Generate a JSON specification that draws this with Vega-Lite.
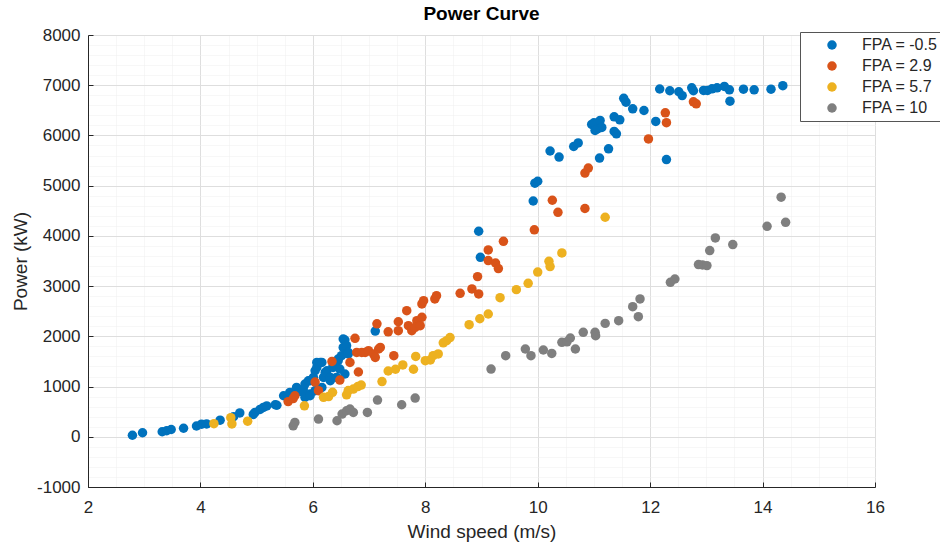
{
 "$schema": "https://vega.github.io/schema/vega-lite/v6.json",
 "width": 787, "height": 452,
 "autosize": {"type": "none"},
 "padding": {"left": 88, "top": 35, "right": 65, "bottom": 55},
 "background": "white",
 "title": {"text": "Power Curve", "fontSize": 19, "fontWeight": "bold", "font": "Liberation Sans", "color": "#000000", "offset": 2, "anchor": "middle"},
 "config": {"view": {"stroke": null}, "font": "Liberation Sans"},
 "data": {"values": [
{"fpa":"FPA = -0.5","ws":2.79,"p":30},{"fpa":"FPA = -0.5","ws":2.97,"p":80},{"fpa":"FPA = -0.5","ws":3.32,"p":100},{"fpa":"FPA = -0.5","ws":3.40,"p":120},{"fpa":"FPA = -0.5","ws":3.48,"p":145},{"fpa":"FPA = -0.5","ws":3.70,"p":170},{"fpa":"FPA = -0.5","ws":3.93,"p":215},{"fpa":"FPA = -0.5","ws":4.02,"p":250},{"fpa":"FPA = -0.5","ws":4.11,"p":255},{"fpa":"FPA = -0.5","ws":4.35,"p":330},{"fpa":"FPA = -0.5","ws":4.59,"p":400},{"fpa":"FPA = -0.5","ws":4.70,"p":475},{"fpa":"FPA = -0.5","ws":4.94,"p":445},{"fpa":"FPA = -0.5","ws":4.97,"p":484},{"fpa":"FPA = -0.5","ws":5.06,"p":545},{"fpa":"FPA = -0.5","ws":5.12,"p":584},{"fpa":"FPA = -0.5","ws":5.18,"p":614},{"fpa":"FPA = -0.5","ws":5.33,"p":638},{"fpa":"FPA = -0.5","ws":5.36,"p":628},{"fpa":"FPA = -0.5","ws":5.48,"p":817},{"fpa":"FPA = -0.5","ws":5.56,"p":817},{"fpa":"FPA = -0.5","ws":5.59,"p":883},{"fpa":"FPA = -0.5","ws":5.71,"p":883},{"fpa":"FPA = -0.5","ws":5.71,"p":983},{"fpa":"FPA = -0.5","ws":5.83,"p":950},{"fpa":"FPA = -0.5","ws":5.83,"p":883},{"fpa":"FPA = -0.5","ws":5.86,"p":1050},{"fpa":"FPA = -0.5","ws":5.86,"p":783},{"fpa":"FPA = -0.5","ws":5.92,"p":1116},{"fpa":"FPA = -0.5","ws":5.95,"p":851},{"fpa":"FPA = -0.5","ws":5.95,"p":817},{"fpa":"FPA = -0.5","ws":5.95,"p":1116},{"fpa":"FPA = -0.5","ws":6.01,"p":1182},{"fpa":"FPA = -0.5","ws":6.04,"p":1315},{"fpa":"FPA = -0.5","ws":6.04,"p":917},{"fpa":"FPA = -0.5","ws":6.07,"p":1381},{"fpa":"FPA = -0.5","ws":6.07,"p":1481},{"fpa":"FPA = -0.5","ws":6.13,"p":1481},{"fpa":"FPA = -0.5","ws":6.16,"p":1481},{"fpa":"FPA = -0.5","ws":6.16,"p":983},{"fpa":"FPA = -0.5","ws":6.19,"p":1182},{"fpa":"FPA = -0.5","ws":6.22,"p":1282},{"fpa":"FPA = -0.5","ws":6.25,"p":1315},{"fpa":"FPA = -0.5","ws":6.31,"p":1182},{"fpa":"FPA = -0.5","ws":6.31,"p":1116},{"fpa":"FPA = -0.5","ws":6.36,"p":1415},{"fpa":"FPA = -0.5","ws":6.36,"p":1381},{"fpa":"FPA = -0.5","ws":6.42,"p":1182},{"fpa":"FPA = -0.5","ws":6.45,"p":1515},{"fpa":"FPA = -0.5","ws":6.45,"p":1548},{"fpa":"FPA = -0.5","ws":6.48,"p":1349},{"fpa":"FPA = -0.5","ws":6.51,"p":1614},{"fpa":"FPA = -0.5","ws":6.54,"p":1780},{"fpa":"FPA = -0.5","ws":6.54,"p":1947},{"fpa":"FPA = -0.5","ws":6.57,"p":1250},{"fpa":"FPA = -0.5","ws":6.57,"p":1927},{"fpa":"FPA = -0.5","ws":6.60,"p":1814},{"fpa":"FPA = -0.5","ws":6.63,"p":1680},{"fpa":"FPA = -0.5","ws":6.63,"p":1648},{"fpa":"FPA = -0.5","ws":7.11,"p":2105},{"fpa":"FPA = -0.5","ws":8.95,"p":4092},{"fpa":"FPA = -0.5","ws":8.98,"p":3573},{"fpa":"FPA = -0.5","ws":9.92,"p":4695},{"fpa":"FPA = -0.5","ws":9.95,"p":5050},{"fpa":"FPA = -0.5","ws":10.0,"p":5088},{"fpa":"FPA = -0.5","ws":10.22,"p":5690},{"fpa":"FPA = -0.5","ws":10.38,"p":5570},{"fpa":"FPA = -0.5","ws":10.64,"p":5780},{"fpa":"FPA = -0.5","ws":10.72,"p":5850},{"fpa":"FPA = -0.5","ws":10.96,"p":6220},{"fpa":"FPA = -0.5","ws":11.0,"p":6252},{"fpa":"FPA = -0.5","ws":11.06,"p":6132},{"fpa":"FPA = -0.5","ws":11.11,"p":6298},{"fpa":"FPA = -0.5","ws":11.14,"p":6160},{"fpa":"FPA = -0.5","ws":11.02,"p":6100},{"fpa":"FPA = -0.5","ws":11.10,"p":5550},{"fpa":"FPA = -0.5","ws":11.26,"p":5734},{"fpa":"FPA = -0.5","ws":11.36,"p":6370},{"fpa":"FPA = -0.5","ws":11.46,"p":6312},{"fpa":"FPA = -0.5","ws":11.36,"p":6080},{"fpa":"FPA = -0.5","ws":11.40,"p":6033},{"fpa":"FPA = -0.5","ws":11.53,"p":6740},{"fpa":"FPA = -0.5","ws":11.57,"p":6663},{"fpa":"FPA = -0.5","ws":11.69,"p":6531},{"fpa":"FPA = -0.5","ws":11.89,"p":6497},{"fpa":"FPA = -0.5","ws":12.10,"p":6280},{"fpa":"FPA = -0.5","ws":12.29,"p":5520},{"fpa":"FPA = -0.5","ws":12.17,"p":6925},{"fpa":"FPA = -0.5","ws":12.35,"p":6890},{"fpa":"FPA = -0.5","ws":12.51,"p":6870},{"fpa":"FPA = -0.5","ws":12.57,"p":6793},{"fpa":"FPA = -0.5","ws":12.74,"p":6949},{"fpa":"FPA = -0.5","ws":12.77,"p":6890},{"fpa":"FPA = -0.5","ws":12.95,"p":6896},{"fpa":"FPA = -0.5","ws":13.02,"p":6896},{"fpa":"FPA = -0.5","ws":13.10,"p":6929},{"fpa":"FPA = -0.5","ws":13.19,"p":6949},{"fpa":"FPA = -0.5","ws":13.32,"p":6975},{"fpa":"FPA = -0.5","ws":13.41,"p":6909},{"fpa":"FPA = -0.5","ws":13.42,"p":6682},{"fpa":"FPA = -0.5","ws":13.66,"p":6922},{"fpa":"FPA = -0.5","ws":13.85,"p":6909},{"fpa":"FPA = -0.5","ws":14.15,"p":6922},{"fpa":"FPA = -0.5","ws":14.36,"p":6990},
{"fpa":"FPA = 2.9","ws":5.56,"p":700},{"fpa":"FPA = 2.9","ws":5.65,"p":760},{"fpa":"FPA = 2.9","ws":5.68,"p":817},{"fpa":"FPA = 2.9","ws":6.04,"p":1090},{"fpa":"FPA = 2.9","ws":6.10,"p":917},{"fpa":"FPA = 2.9","ws":6.34,"p":1500},{"fpa":"FPA = 2.9","ws":6.48,"p":1130},{"fpa":"FPA = 2.9","ws":6.66,"p":1481},{"fpa":"FPA = 2.9","ws":6.75,"p":1960},{"fpa":"FPA = 2.9","ws":6.78,"p":1680},{"fpa":"FPA = 2.9","ws":6.81,"p":1290},{"fpa":"FPA = 2.9","ws":6.87,"p":1680},{"fpa":"FPA = 2.9","ws":6.93,"p":1680},{"fpa":"FPA = 2.9","ws":6.99,"p":1714},{"fpa":"FPA = 2.9","ws":7.08,"p":1648},{"fpa":"FPA = 2.9","ws":7.11,"p":1580},{"fpa":"FPA = 2.9","ws":7.17,"p":1748},{"fpa":"FPA = 2.9","ws":7.20,"p":1780},{"fpa":"FPA = 2.9","ws":7.14,"p":2250},{"fpa":"FPA = 2.9","ws":7.34,"p":2090},{"fpa":"FPA = 2.9","ws":7.44,"p":1614},{"fpa":"FPA = 2.9","ws":7.52,"p":2113},{"fpa":"FPA = 2.9","ws":7.52,"p":2290},{"fpa":"FPA = 2.9","ws":7.67,"p":2511},{"fpa":"FPA = 2.9","ws":7.70,"p":2212},{"fpa":"FPA = 2.9","ws":7.76,"p":2113},{"fpa":"FPA = 2.9","ws":7.85,"p":2312},{"fpa":"FPA = 2.9","ws":7.82,"p":2179},{"fpa":"FPA = 2.9","ws":7.91,"p":2212},{"fpa":"FPA = 2.9","ws":7.94,"p":2378},{"fpa":"FPA = 2.9","ws":7.94,"p":2645},{"fpa":"FPA = 2.9","ws":7.97,"p":2711},{"fpa":"FPA = 2.9","ws":8.17,"p":2744},{"fpa":"FPA = 2.9","ws":8.20,"p":2810},{"fpa":"FPA = 2.9","ws":8.62,"p":2856},{"fpa":"FPA = 2.9","ws":8.83,"p":2943},{"fpa":"FPA = 2.9","ws":8.95,"p":2844},{"fpa":"FPA = 2.9","ws":8.93,"p":3189},{"fpa":"FPA = 2.9","ws":9.12,"p":3721},{"fpa":"FPA = 2.9","ws":9.12,"p":3508},{"fpa":"FPA = 2.9","ws":9.25,"p":3460},{"fpa":"FPA = 2.9","ws":9.30,"p":3350},{"fpa":"FPA = 2.9","ws":9.39,"p":3892},{"fpa":"FPA = 2.9","ws":9.94,"p":4120},{"fpa":"FPA = 2.9","ws":10.26,"p":4710},{"fpa":"FPA = 2.9","ws":10.36,"p":4470},{"fpa":"FPA = 2.9","ws":10.84,"p":4545},{"fpa":"FPA = 2.9","ws":10.84,"p":5250},{"fpa":"FPA = 2.9","ws":10.90,"p":5350},{"fpa":"FPA = 2.9","ws":11.97,"p":5930},{"fpa":"FPA = 2.9","ws":12.27,"p":6450},{"fpa":"FPA = 2.9","ws":12.29,"p":6255},{"fpa":"FPA = 2.9","ws":12.77,"p":6670},{"fpa":"FPA = 2.9","ws":12.82,"p":6630},
{"fpa":"FPA = 5.7","ws":4.24,"p":260},{"fpa":"FPA = 5.7","ws":4.54,"p":380},{"fpa":"FPA = 5.7","ws":4.56,"p":255},{"fpa":"FPA = 5.7","ws":4.84,"p":310},{"fpa":"FPA = 5.7","ws":5.85,"p":616},{"fpa":"FPA = 5.7","ws":6.19,"p":785},{"fpa":"FPA = 5.7","ws":6.28,"p":800},{"fpa":"FPA = 5.7","ws":6.35,"p":885},{"fpa":"FPA = 5.7","ws":6.60,"p":835},{"fpa":"FPA = 5.7","ws":6.63,"p":920},{"fpa":"FPA = 5.7","ws":6.72,"p":950},{"fpa":"FPA = 5.7","ws":6.80,"p":1000},{"fpa":"FPA = 5.7","ws":6.86,"p":1030},{"fpa":"FPA = 5.7","ws":7.23,"p":1100},{"fpa":"FPA = 5.7","ws":7.34,"p":1310},{"fpa":"FPA = 5.7","ws":7.47,"p":1345},{"fpa":"FPA = 5.7","ws":7.60,"p":1430},{"fpa":"FPA = 5.7","ws":7.79,"p":1345},{"fpa":"FPA = 5.7","ws":7.83,"p":1600},{"fpa":"FPA = 5.7","ws":8.00,"p":1515},{"fpa":"FPA = 5.7","ws":8.09,"p":1530},{"fpa":"FPA = 5.7","ws":8.14,"p":1614},{"fpa":"FPA = 5.7","ws":8.23,"p":1650},{"fpa":"FPA = 5.7","ws":8.32,"p":1870},{"fpa":"FPA = 5.7","ws":8.38,"p":1913},{"fpa":"FPA = 5.7","ws":8.44,"p":1975},{"fpa":"FPA = 5.7","ws":8.78,"p":2232},{"fpa":"FPA = 5.7","ws":8.97,"p":2350},{"fpa":"FPA = 5.7","ws":9.12,"p":2445},{"fpa":"FPA = 5.7","ws":9.33,"p":2770},{"fpa":"FPA = 5.7","ws":9.62,"p":2930},{"fpa":"FPA = 5.7","ws":9.83,"p":3056},{"fpa":"FPA = 5.7","ws":10.0,"p":3280},{"fpa":"FPA = 5.7","ws":10.20,"p":3494},{"fpa":"FPA = 5.7","ws":10.22,"p":3388},{"fpa":"FPA = 5.7","ws":10.43,"p":3661},{"fpa":"FPA = 5.7","ws":11.20,"p":4371},
{"fpa":"FPA = 10","ws":5.65,"p":219},{"fpa":"FPA = 10","ws":5.68,"p":285},{"fpa":"FPA = 10","ws":6.10,"p":353},{"fpa":"FPA = 10","ws":6.43,"p":319},{"fpa":"FPA = 10","ws":6.52,"p":452},{"fpa":"FPA = 10","ws":6.60,"p":518},{"fpa":"FPA = 10","ws":6.66,"p":552},{"fpa":"FPA = 10","ws":6.72,"p":485},{"fpa":"FPA = 10","ws":6.97,"p":485},{"fpa":"FPA = 10","ws":7.15,"p":731},{"fpa":"FPA = 10","ws":7.58,"p":638},{"fpa":"FPA = 10","ws":7.82,"p":771},{"fpa":"FPA = 10","ws":9.17,"p":1349},{"fpa":"FPA = 10","ws":9.43,"p":1614},{"fpa":"FPA = 10","ws":9.78,"p":1748},{"fpa":"FPA = 10","ws":9.88,"p":1614},{"fpa":"FPA = 10","ws":10.10,"p":1728},{"fpa":"FPA = 10","ws":10.25,"p":1660},{"fpa":"FPA = 10","ws":10.43,"p":1880},{"fpa":"FPA = 10","ws":10.52,"p":1890},{"fpa":"FPA = 10","ws":10.58,"p":1967},{"fpa":"FPA = 10","ws":10.67,"p":1748},{"fpa":"FPA = 10","ws":10.81,"p":2079},{"fpa":"FPA = 10","ws":11.02,"p":2079},{"fpa":"FPA = 10","ws":11.03,"p":2013},{"fpa":"FPA = 10","ws":11.20,"p":2258},{"fpa":"FPA = 10","ws":11.44,"p":2312},{"fpa":"FPA = 10","ws":11.69,"p":2591},{"fpa":"FPA = 10","ws":11.79,"p":2392},{"fpa":"FPA = 10","ws":11.82,"p":2744},{"fpa":"FPA = 10","ws":12.36,"p":3075},{"fpa":"FPA = 10","ws":12.44,"p":3142},{"fpa":"FPA = 10","ws":12.86,"p":3428},{"fpa":"FPA = 10","ws":12.93,"p":3422},{"fpa":"FPA = 10","ws":13.01,"p":3408},{"fpa":"FPA = 10","ws":13.06,"p":3707},{"fpa":"FPA = 10","ws":13.16,"p":3960},{"fpa":"FPA = 10","ws":13.47,"p":3827},{"fpa":"FPA = 10","ws":14.08,"p":4191},{"fpa":"FPA = 10","ws":14.33,"p":4770},{"fpa":"FPA = 10","ws":14.41,"p":4271}
 ]},
 "mark": {"type": "point", "filled": true, "opacity": 1, "size": 90, "shape": "circle", "strokeWidth": 0},
 "encoding": {
  "x": {"field": "ws", "type": "quantitative", "scale": {"domain": [2, 16], "nice": false, "zero": false},
   "axis": {"title": "Wind speed (m/s)", "values": [2,2.5,3,3.5,4,4.5,5,5.5,6,6.5,7,7.5,8,8.5,9,9.5,10,10.5,11,11.5,12,12.5,13,13.5,14,14.5,15,15.5,16],
    "labelExpr": "datum.value % 2 === 0 ? '' + datum.value : ''", "labelOverlap": false, "labelFlush": false,
    "grid": true,
    "gridColor": {"condition": {"test": "datum.value % 2 === 0", "value": "#dedede"}, "value": "#eeeeee"},
    "gridDash": {"condition": {"test": "datum.value % 2 === 0", "value": []}, "value": [1, 1]},
    "tickColor": {"condition": {"test": "datum.value % 2 === 0", "value": "#262626"}, "value": "transparent"},
    "tickSize": -5, "domainColor": "#262626", "labelFontSize": 17, "labelColor": "#262626", "labelPadding": 17,
    "titleFontSize": 19, "titleFontWeight": "normal", "titleColor": "#262626", "titlePadding": 7}},
  "y": {"field": "p", "type": "quantitative", "scale": {"domain": [-1000, 8000], "nice": false, "zero": false},
   "axis": {"title": "Power (kW)", "values": [-1000,-800,-600,-400,-200,0,200,400,600,800,1000,1200,1400,1600,1800,2000,2200,2400,2600,2800,3000,3200,3400,3600,3800,4000,4200,4400,4600,4800,5000,5200,5400,5600,5800,6000,6200,6400,6600,6800,7000,7200,7400,7600,7800,8000],
    "labelExpr": "datum.value % 1000 === 0 ? '' + datum.value : ''", "labelOverlap": false, "labelFlush": false,
    "grid": true,
    "gridColor": {"condition": {"test": "datum.value % 1000 === 0", "value": "#dedede"}, "value": "#eeeeee"},
    "gridDash": {"condition": {"test": "datum.value % 1000 === 0", "value": []}, "value": [1, 1]},
    "tickColor": {"condition": {"test": "datum.value % 1000 === 0", "value": "#262626"}, "value": "transparent"},
    "tickSize": -5, "domainColor": "#262626", "labelFontSize": 17, "labelColor": "#262626", "labelPadding": 13,
    "titleFontSize": 19, "titleFontWeight": "normal", "titleColor": "#262626", "titlePadding": 6}},
  "color": {"field": "fpa", "type": "nominal",
   "scale": {"domain": ["FPA = -0.5", "FPA = 2.9", "FPA = 5.7", "FPA = 10"], "range": ["#0072BD", "#D95319", "#EDB120", "#7F7F7F"]},
   "legend": {"title": null, "orient": "none", "legendX": 712, "legendY": -3, "direction": "vertical",
    "fillColor": "white", "strokeColor": "#555555", "padding": 5, "labelFontSize": 16, "labelColor": "#262626",
    "symbolSize": 90, "symbolType": "circle", "symbolStrokeWidth": 0, "rowPadding": 5, "labelOffset": 22, "symbolOffset": 19}}
 }
}
